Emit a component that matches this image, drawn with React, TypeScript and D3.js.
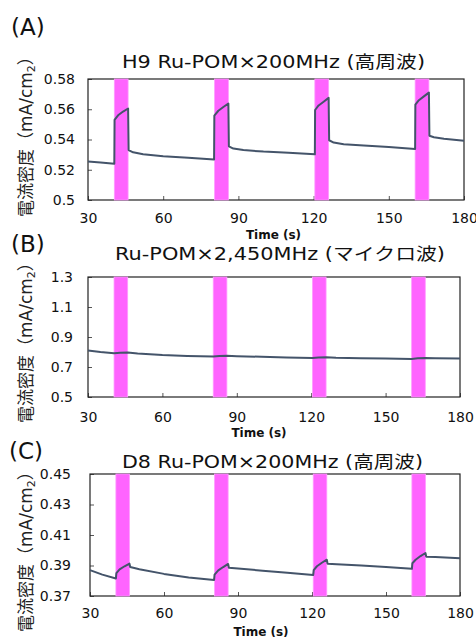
import React, { useEffect, useRef } from 'react';
import * as d3 from 'd3';

// irradiation windows (s)
const bandStart = [40.5, 80.5, 120.5, 160.5];
const bandEnd = [46, 86, 126, 166];

const xTicks = [30, 60, 90, 120, 150, 180];

// (A) H9 Ru-POM x 200MHz
const timeA = [30, 35, 40.5, 40.6, 42, 44, 46, 46.2, 48, 52, 60, 70, 80.3, 80.4, 82, 84, 86, 86.2, 88, 92, 100, 110, 120.5, 120.6, 122, 124, 126, 126.2, 128, 132, 140, 150, 160.5, 160.6, 162, 164, 166, 166.2, 168, 172, 180];
const currentA = [0.5255, 0.5248, 0.524, 0.553, 0.556, 0.5585, 0.5605, 0.533, 0.5315, 0.5302, 0.529, 0.528, 0.5268, 0.5558, 0.559, 0.5615, 0.5638, 0.5355, 0.534, 0.533, 0.532, 0.5312, 0.5302, 0.5595, 0.5625, 0.565, 0.5675, 0.5395, 0.538, 0.5368, 0.536, 0.535, 0.5337, 0.563, 0.566, 0.5685, 0.571, 0.5425, 0.5415, 0.5405, 0.5392];
const yTicksA = [0.5, 0.52, 0.54, 0.56, 0.58];

// (B) Ru-POM x 2,450MHz
const timeB = [30, 35, 40.5, 43, 46, 50, 60, 70, 80.5, 83, 86, 90, 100, 110, 120.5, 123, 126, 130, 140, 150, 160.5, 163, 166, 170, 180];
const currentB = [0.81, 0.8, 0.792, 0.795, 0.797, 0.79, 0.78, 0.774, 0.77, 0.774, 0.775, 0.772, 0.768, 0.764, 0.76, 0.764, 0.765, 0.762, 0.759, 0.757, 0.754, 0.759, 0.76, 0.758, 0.756];
const yTicksB = [0.5, 0.7, 0.9, 1.1, 1.3];

// (C) D8 Ru-POM x 200MHz
const timeC = [30, 35, 40.5, 40.7, 42, 44, 46, 46.3, 50, 60, 70, 80.3, 80.5, 82, 84, 86, 86.3, 90, 100, 110, 120.5, 120.7, 122, 124, 126, 126.3, 130, 140, 150, 160.5, 160.7, 162, 164, 166, 166.3, 170, 180];
const currentC = [0.387, 0.384, 0.3815, 0.385, 0.3875, 0.3895, 0.3912, 0.389, 0.3875, 0.3845, 0.3822, 0.3805, 0.384, 0.3868, 0.389, 0.391, 0.3885, 0.388, 0.3866, 0.3852, 0.3838, 0.387, 0.3895, 0.3918, 0.3938, 0.3912, 0.3908, 0.39, 0.389, 0.3878, 0.3915, 0.3938, 0.3962, 0.3982, 0.3958, 0.3955, 0.3947];
const yTicksC = [0.37, 0.39, 0.41, 0.43, 0.45];

const titles = ['H9 Ru-POM×200MHz (高周波)', 'Ru-POM×2,450MHz (マイクロ波)', 'D8 Ru-POM×200MHz (高周波)'];
const letters = ['(A)', '(B)', '(C)'];

const FONT = "'DejaVu Sans', 'Noto Sans CJK JP', sans-serif";

const App = () => {
  const ref = useRef<SVGSVGElement | null>(null);

  useEffect(() => {
    if (!ref.current) return;
    const svg = d3.select(ref.current);
    svg.selectAll('*').remove();

    const panels = [
      { time: timeA, value: currentA, ticks: yTicksA, left: 88, right: 464, top: 79, bottom: 200, yPad: 13, xPad: 13,
        titleX: 273.5, titleY: 68, titleLen: 303, letterX: 11, letterY: 35, labelX: 32, labelY: 217, timeX: 273.5, timeY: 239 },
      { time: timeB, value: currentB, ticks: yTicksB, left: 88, right: 460, top: 277, bottom: 397, yPad: 15, xPad: 15,
        titleX: 280, titleY: 260, titleLen: 330, letterX: 11, letterY: 252, labelX: 32, labelY: 423, timeX: 259, timeY: 437 },
      { time: timeC, value: currentC, ticks: yTicksC, left: 90, right: 460, top: 474, bottom: 596, yPad: 19, xPad: 12,
        titleX: 272.5, titleY: 468, titleLen: 301, letterX: 9, letterY: 459, labelX: 32, labelY: 632, timeX: 261, timeY: 636 },
    ];

    svg.append('rect').attr('width', 476).attr('height', 637).attr('fill', '#fff');

    panels.forEach((p, i) => {
      const x = d3.scaleLinear().domain([30, 180]).range([p.left, p.right]);
      const y = d3.scaleLinear().domain(d3.extent(p.ticks) as [number, number]).range([p.bottom, p.top]);
      const g = svg.append('g');

      // axes with inward ticks
      const yAxis = g.append('g')
        .attr('transform', `translate(${p.left},0)`)
        .call(d3.axisLeft(y).tickValues(p.ticks).tickSize(-4).tickPadding(p.yPad).tickFormat(d3.format('~g')));
      const xAxis = g.append('g')
        .attr('transform', `translate(0,${p.bottom})`)
        .call(d3.axisBottom(x).tickValues(xTicks).tickSize(-4).tickPadding(p.xPad));
      [yAxis, xAxis].forEach(a => {
        a.select('.domain').remove();
        a.selectAll('line').attr('stroke', '#555');
        a.selectAll('text')
          .attr('font-family', FONT)
          .attr('font-size', 14)
          .attr('fill', '#111');
      });

      // frame
      g.append('rect')
        .attr('x', p.left).attr('y', p.top)
        .attr('width', p.right - p.left).attr('height', p.bottom - p.top)
        .attr('fill', 'none').attr('stroke', '#222').attr('stroke-width', 1.2);

      // magenta irradiation bands
      bandStart.forEach((s, k) => {
        g.append('rect')
          .attr('x', x(s)).attr('y', p.top)
          .attr('width', x(bandEnd[k]) - x(s)).attr('height', p.bottom - p.top)
          .attr('fill', '#ff5cff').attr('fill-opacity', 0.95)
          .attr('stroke', '#ff9cff').attr('stroke-width', 0.8);
      });

      // current trace
      const line = d3.line<number>()
        .x((_, k) => x(p.time[k]))
        .y(d => y(d));
      g.append('path')
        .datum(p.value)
        .attr('d', line)
        .attr('fill', 'none')
        .attr('stroke', '#44546a')
        .attr('stroke-width', 2)
        .attr('stroke-linejoin', 'round');

      // title
      g.append('text')
        .attr('x', p.titleX).attr('y', p.titleY)
        .attr('text-anchor', 'middle')
        .attr('font-family', FONT).attr('font-size', 17).attr('fill', '#111')
        .attr('textLength', p.titleLen).attr('lengthAdjust', 'spacingAndGlyphs')
        .text(titles[i]);

      // panel letter
      g.append('text')
        .attr('x', p.letterX).attr('y', p.letterY)
        .attr('font-family', FONT).attr('font-size', 23).attr('fill', '#111')
        .text(letters[i]);

      // y label
      const lab = g.append('text')
        .attr('transform', `translate(${p.labelX},${p.labelY}) rotate(-90)`)
        .attr('font-family', FONT).attr('font-size', 17).attr('fill', '#222');
      lab.append('tspan').text('電流密度（mA/cm');
      lab.append('tspan').attr('font-size', 11).attr('dy', 3).text('2');
      lab.append('tspan').attr('dy', -3).text('）');

      // x label
      g.append('text')
        .attr('x', p.timeX).attr('y', p.timeY)
        .attr('text-anchor', 'middle')
        .attr('font-family', FONT).attr('font-size', 12).attr('font-weight', 'bold').attr('fill', '#111')
        .text('Time (s)');
    });
  }, []);

  return (
    <svg
      ref={ref}
      width={476}
      height={637}
      style={{ position: 'absolute', left: 0, top: 0 }}
    />
  );
};

export default App;
